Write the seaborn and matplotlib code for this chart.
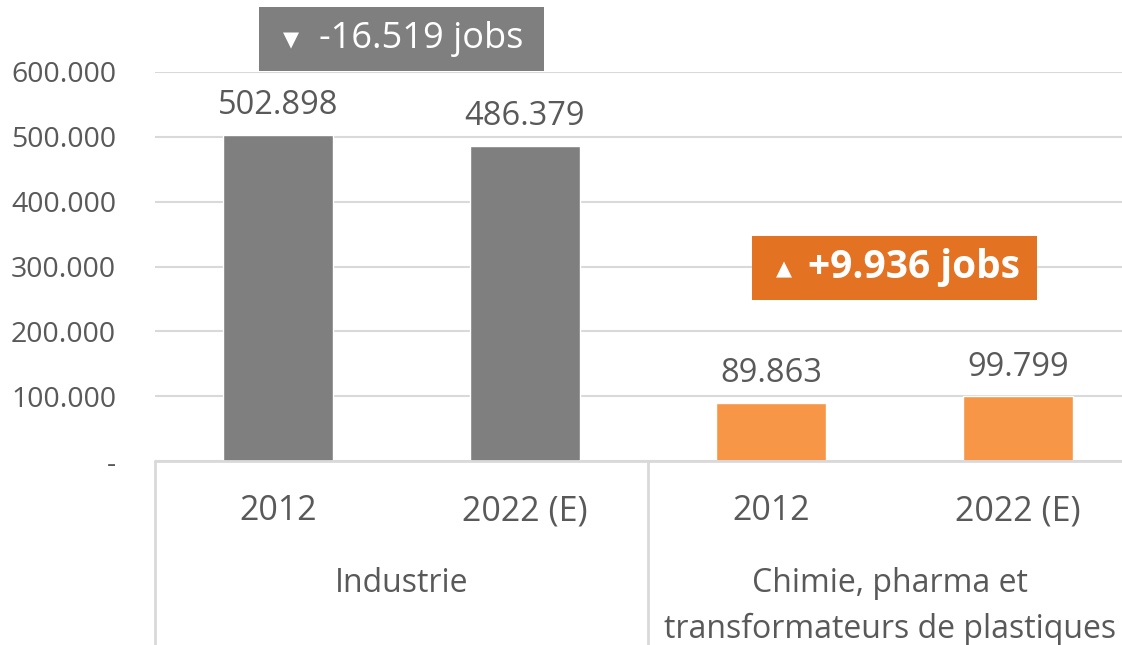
import numpy as np
import pandas as pd
import matplotlib.pyplot as plt
import seaborn as sns
from matplotlib.patches import Rectangle

# -----------------------------------------------------------------------------
# Données
# -----------------------------------------------------------------------------
groups = ["Industrie", "Chimie, pharma et\ntransformateurs de plastiques"]
years = ["2012", "2022 (E)"]
industrie = [502898, 486379]
chimie = [89863, 99799]
y_ticks = [0, 100000, 200000, 300000, 400000, 500000, 600000]
y_ticklabels = ["-", "100.000", "200.000", "300.000", "400.000", "500.000", "600.000"]

GREY = "#7F7F7F"
ORANGE = "#F79646"
ORANGE_BOX = "#E37222"
TXT = "#595959"
GRID = "#D9D9D9"

df = pd.DataFrame({
    "slot": [f"{g}|{y}" for g in groups for y in years],
    "groupe": [g for g in groups for _ in years],
    "annee": years * len(groups),
    "emplois": industrie + chimie,
})


def fmt(v):
    """Séparateur de milliers à la française (point)."""
    return f"{abs(int(round(v))):,}".replace(",", ".")


# -----------------------------------------------------------------------------
# Figure
# -----------------------------------------------------------------------------
sns.set_style("white")
plt.rcParams["font.family"] = ["Open Sans", "DejaVu Sans"]

fig = plt.figure(figsize=(11.22, 6.45), dpi=100)
ax = fig.add_axes([155 / 1122, 1 - 461 / 645, 986 / 1122, 389 / 645])

sns.barplot(data=df, x="slot", y="emplois", hue="groupe",
            palette=[GREY, ORANGE], dodge=False, width=0.446,
            saturation=1, legend=False, ax=ax)

ax.set_xlim(-0.5, 3.5)
ax.set_ylim(0, 600000)
ax.set_yticks(y_ticks)
ax.set_yticklabels(y_ticklabels, fontsize=20.5, color=TXT)
ax.set_xticks(range(len(df)))
ax.set_xticklabels(df["annee"], fontsize=24.5, color=TXT)
ax.tick_params(axis="both", length=0)
ax.tick_params(axis="x", pad=24)
ax.tick_params(axis="y", pad=28)
ax.set_xlabel("")
ax.set_ylabel("")
for s in ax.spines.values():
    s.set_visible(False)
ax.yaxis.grid(True, color=GRID, linewidth=1.5)
ax.set_axisbelow(True)
ax.axhline(0, color=GRID, linewidth=2, clip_on=False)

# étiquettes de valeur
for cont in ax.containers:
    ax.bar_label(cont, labels=[fmt(v) for v in cont.datavalues],
                 padding=9, fontsize=23.5, color=TXT)

# libellés de groupe + séparateurs de catégories
for i, g in enumerate(groups):
    ax.text(2 * i + 0.5 - 0.02 * i, -0.272, g, transform=ax.get_xaxis_transform(),
            ha="center", va="top", fontsize=23, color=TXT,
            linespacing=1.52)
for xs in [-0.5, 1.5]:
    ax.plot([xs, xs], [0, -0.475], transform=ax.get_xaxis_transform(),
            color=GRID, linewidth=2, clip_on=False)

# encadrés de variation
deltas = [industrie[1] - industrie[0], chimie[1] - chimie[0]]
box_specs = [
    (0.5, 651000, GREY, "normal", 26),
    (2.5, 297700, ORANGE_BOX, "bold", 28),
]
for d, (xc, yc, col, weight, fs) in zip(deltas, box_specs):
    w, h = 1.16, 99000
    ax.add_patch(Rectangle((xc - w / 2, yc - h / 2), w, h, facecolor=col,
                           edgecolor="none", clip_on=False, zorder=3))
    sign = "+" if d > 0 else "-"
    tri = "▲" if d > 0 else "▼"
    ax.text(xc + 0.08, yc, f"{sign}{fmt(d)} jobs", ha="center", va="center",
            color="white", fontsize=fs, fontweight=weight, zorder=4)
    ax.text(xc - 0.45, yc - 2000, tri, ha="center", va="center",
            color="white", fontsize=15, zorder=4, family="DejaVu Sans")

fig.savefig("out.png", dpi=100)
